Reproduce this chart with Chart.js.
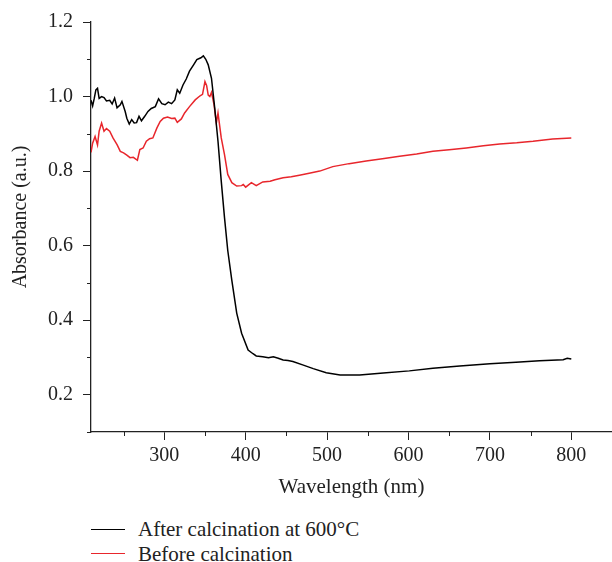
<!DOCTYPE html>
<html>
<head>
<meta charset="utf-8">
<script src="https://cdn.jsdelivr.net/npm/chart.js@4.4.1/dist/chart.umd.min.js"></script>
<style>
  body { margin: 0; background: #fff; }
  #wrap { position: relative; width: 612px; height: 562px; overflow: hidden; }
  #chart { display: block; }
  #legend { position: absolute; left: 91px; top: 517px; font: 21px "Liberation Serif", serif; color: #222; }
  .row { display: flex; align-items: center; height: 24.5px; line-height: 24.5px; white-space: nowrap; }
  .swatch { width: 34px; height: 0; border-top: 1.5px solid; margin-right: 13px; }
</style>
</head>
<body>
<div id="wrap">
  <canvas id="chart" width="612" height="500"></canvas>
  <div id="legend"></div>
</div>
<script>
// series (wavelength nm / absorbance a.u.)
const afterWl = [210, 212, 214, 216, 218, 220, 223, 226, 229, 233, 236, 239, 242, 246, 248, 252, 254, 257, 260, 263,
  266, 269, 272, 276, 280, 284, 289, 293, 297, 301, 305, 309, 313, 316, 319, 323, 327, 331, 336, 340,
  345, 348, 351, 354, 358, 362, 366, 370, 374, 378, 383, 389, 395, 403, 409, 413, 421,
  428, 434, 440, 446, 452, 458, 470, 483, 499, 516, 540, 569, 601, 630, 663, 700, 732, 761, 790, 795, 800];
const afterAbs = [0.99, 0.975, 0.995, 1.018, 1.022, 0.995, 1.0, 0.997, 0.988, 0.99, 0.98, 0.996, 0.97, 0.978, 0.987, 0.96, 0.942, 0.926, 0.938, 0.929,
  0.93, 0.947, 0.935, 0.947, 0.96, 0.968, 0.973, 0.994, 0.981, 0.978, 0.985, 0.981, 0.991, 1.018, 1.009, 1.031, 1.047, 1.068, 1.085, 1.099,
  1.104, 1.109, 1.1, 1.085, 1.049, 0.969, 0.88, 0.773, 0.675, 0.587, 0.507, 0.419, 0.365, 0.32, 0.31, 0.304, 0.302,
  0.299, 0.302, 0.298, 0.293, 0.292, 0.289, 0.28, 0.27, 0.259, 0.253, 0.253, 0.258, 0.264, 0.271, 0.277, 0.283, 0.287, 0.291, 0.294, 0.298, 0.296];

const beforeWl = [210, 212, 215, 218, 220, 223, 226, 229, 233, 237, 242, 246, 250, 254, 258, 262, 267, 270, 274, 278,
  282, 286, 291, 295, 299, 304, 309, 313, 316, 321, 325, 331, 338, 344, 347, 350, 352, 354, 356, 358,
  361, 364, 366, 370, 374, 378, 383, 389, 395, 397, 400, 407, 413, 421, 430, 436, 446, 456, 466, 478,
  491, 507, 527, 548, 568, 589, 610, 630, 650, 671, 692, 712, 733, 753, 777, 800];
const beforeAbs = [0.85, 0.875, 0.893, 0.87, 0.907, 0.929, 0.907, 0.914, 0.907, 0.889, 0.871, 0.853, 0.849, 0.843, 0.836, 0.837, 0.829, 0.858, 0.862, 0.88,
  0.887, 0.889, 0.916, 0.933, 0.942, 0.945, 0.941, 0.942, 0.931, 0.94, 0.956, 0.973, 0.991, 1.002, 1.006, 1.04, 1.03, 1.004, 1.0, 1.011,
  0.98, 0.929, 0.956, 0.889, 0.844, 0.791, 0.769, 0.76, 0.761, 0.764, 0.757, 0.769, 0.761, 0.771, 0.773, 0.777, 0.782, 0.785, 0.789, 0.794,
  0.8, 0.812, 0.82, 0.827, 0.833, 0.84, 0.846, 0.853, 0.857, 0.862, 0.868, 0.873, 0.876, 0.88, 0.886, 0.889];

const seriesNames = ["After calcination at 600°C", "Before calcination"];
const seriesColors = ["#000000", "#e8262c"];

const xMajor = [300, 400, 500, 600, 700, 800];
const xMinor = [250, 350, 450, 550, 650, 750, 850];
const yMajor = [0.2, 0.4, 0.6, 0.8, 1.0, 1.2];
const yMinor = [0.1, 0.3, 0.5, 0.7, 0.9, 1.1];

const serif = "'Liberation Serif', 'Times New Roman', serif";
const ink = "#222";

const toPoints = (xs, ys) => xs.map((x, i) => ({ x: x, y: ys[i] }));

// short unlabelled ticks between the labelled ones
const minorTicks = {
  id: "minorTicks",
  afterDraw(chart) {
    const { ctx } = chart;
    const x = chart.scales.x;
    const y = chart.scales.y;
    ctx.save();
    ctx.strokeStyle = ink;
    ctx.lineWidth = 1;
    ctx.beginPath();
    xMinor.forEach((v) => {
      const px = Math.round(x.getPixelForValue(v)) + 0.5;
      ctx.moveTo(px, x.top);
      ctx.lineTo(px, x.top + 4);
    });
    yMinor.forEach((v) => {
      const py = Math.round(y.getPixelForValue(v)) + 0.5;
      ctx.moveTo(y.right - 4, py);
      ctx.lineTo(y.right, py);
    });
    ctx.stroke();
    ctx.restore();
  },
};

const ctx = document.getElementById("chart").getContext("2d");
new Chart(ctx, {
  type: "line",
  data: {
    datasets: [
      {
        label: seriesNames[0],
        data: toPoints(afterWl, afterAbs),
        borderColor: seriesColors[0],
        borderWidth: 1.5,
        pointRadius: 0,
        tension: 0,
      },
      {
        label: seriesNames[1],
        data: toPoints(beforeWl, beforeAbs),
        borderColor: seriesColors[1],
        borderWidth: 1.5,
        pointRadius: 0,
        tension: 0,
      },
    ],
  },
  options: {
    responsive: false,
    animation: false,
    layout: { padding: { top: 20, left: 0, right: 0, bottom: 0 } },
    plugins: { legend: { display: false }, tooltip: { enabled: false } },
    scales: {
      x: {
        type: "linear",
        min: 210,
        max: 850,
        afterBuildTicks: (s) => { s.ticks = xMajor.map((v) => ({ value: v })); },
        afterFit: (s) => { s.height = 68; },
        border: { display: true, color: ink, width: 1.3 },
        grid: { drawOnChartArea: false, tickLength: 8, color: ink, lineWidth: 1 },
        ticks: {
          autoSkip: false,
          maxRotation: 0,
          padding: 4,
          color: ink,
          font: { family: serif, size: 20 },
          callback: (v) => String(v),
        },
        title: {
          display: true,
          text: "Wavelength (nm)",
          color: ink,
          font: { family: serif, size: 21 },
          padding: { top: 0, bottom: 0 },
        },
      },
      y: {
        type: "linear",
        min: 0.1,
        max: 1.2,
        afterBuildTicks: (s) => { s.ticks = yMajor.map((v) => ({ value: v })); },
        afterFit: (s) => { s.width = 91; },
        border: { display: true, color: ink, width: 1.3 },
        grid: { drawOnChartArea: false, tickLength: 8, color: ink, lineWidth: 1 },
        ticks: {
          autoSkip: false,
          padding: 10,
          color: ink,
          font: { family: serif, size: 20 },
          callback: (v) => v.toFixed(1),
        },
        title: {
          display: true,
          text: "    Absorbance (a.u.)",
          color: ink,
          font: { family: serif, size: 20 },
          padding: { top: 9, bottom: 0 },
        },
      },
    },
  },
  plugins: [minorTicks],
});

// legend stacked under the axis title
const legend = document.getElementById("legend");
seriesNames.forEach((name, i) => {
  const row = document.createElement("div");
  row.className = "row";
  const sw = document.createElement("span");
  sw.className = "swatch";
  sw.style.borderColor = seriesColors[i];
  const label = document.createElement("span");
  label.textContent = name;
  row.appendChild(sw);
  row.appendChild(label);
  legend.appendChild(row);
});
</script>
</body>
</html>
